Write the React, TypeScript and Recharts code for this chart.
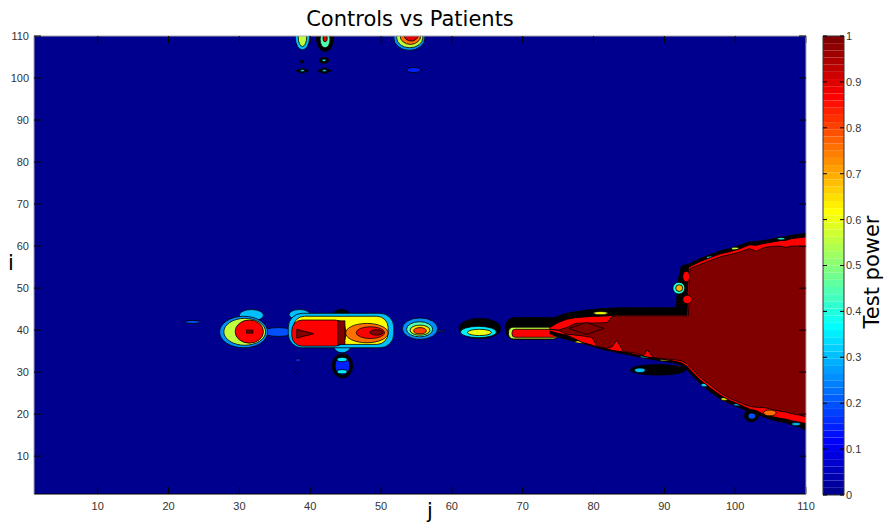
import React from 'react';
import { ComposedChart, Area, XAxis, YAxis, ReferenceArea } from 'recharts';

// Axis ticks
const jTicks = [10, 20, 30, 40, 50, 60, 70, 80, 90, 100, 110];
const iTicks = [10, 20, 30, 40, 50, 60, 70, 80, 90, 100, 110];
const powerTicks = [0, 0.1, 0.2, 0.3, 0.4, 0.5, 0.6, 0.7, 0.8, 0.9, 1];

// Large high-power region (right side): column j and the row range [lo, hi]
// of three nested contour levels (outer edge, 0.86 level, ~1.0 level).
const bigJ = [73.8, 75.0, 76.2, 77.5, 78.5, 79.2, 79.8, 80.5, 81.9, 82.6, 83.3, 84.2, 86.1, 87.0, 87.6, 88.4, 90.4, 91.7, 91.9, 92.4, 93.2, 93.4, 93.6, 93.8, 95.0, 96.5, 98.0, 99.3, 100.7, 102.0, 103.0, 104.0, 105.0, 106.3, 107.2, 108.0, 109.0, 110.0];
const outerLo = [39.2, 38.4, 37.8, 37.2, 36.8, 36.5, 36.2, 35.8, 35.2, 35.0, 34.7, 34.4, 33.7, 33.4, 33.2, 33.0, 32.5, 32.1, 32.0, 31.6, 30.6, 30.2, 29.8, 29.4, 27.4, 25.3, 23.5, 22.5, 21.5, 20.6, 20.2, 19.4, 18.8, 18.2, 18.0, 17.4, 17.0, 16.2];
const outerHi = [42.6, 43.3, 44.0, 44.4, 44.6, 44.8, 44.9, 45.0, 45.2, 45.2, 45.3, 45.3, 45.3, 45.3, 45.3, 45.3, 45.3, 45.3, 51.5, 55.2, 55.6, 55.7, 55.8, 56.0, 57.0, 58.0, 58.9, 59.4, 60.2, 61.0, 61.1, 61.3, 61.6, 62.1, 62.2, 62.6, 62.8, 63.1];
const redLo = [39.8, 39.2, 38.8, 37.8, 37.0, 36.7, 36.4, 36.0, 35.5, 35.2, 35.0, 34.8, 34.1, 33.8, 33.6, 33.4, 32.9, 32.5, 32.4, 32.2, 31.4, 31.0, 30.7, 30.3, 28.2, 26.2, 24.4, 23.2, 22.2, 21.2, 20.8, 20.0, 19.5, 19.0, 18.8, 18.4, 18.1, 17.8];
const redHi = [40.6, 41.8, 42.6, 43.0, 43.1, 43.2, 43.3, 43.3, 43.4, 43.5, 43.6, 43.6, 43.6, 43.6, 43.6, 43.6, 43.6, 43.6, 43.6, 43.6, 43.6, 54.9, 55.1, 55.3, 56.3, 57.3, 58.2, 58.7, 59.4, 60.3, 60.2, 60.6, 60.9, 61.3, 61.4, 61.8, 62.0, 62.2];
const coreLo = [40.2, 40.0, 39.0, 38.8, 38.6, 38.4, 38.3, 36.1, 35.7, 36.0, 37.6, 34.9, 34.5, 33.9, 35.3, 33.5, 33.1, 32.9, 32.8, 32.7, 32.0, 31.6, 31.4, 31.0, 28.8, 26.9, 25.0, 23.7, 22.7, 21.9, 21.6, 21.6, 21.2, 20.7, 20.5, 20.1, 19.8, 19.4];
const coreHi = [40.2, 40.0, 40.6, 41.6, 41.7, 41.7, 41.7, 41.7, 41.8, 43.2, 43.4, 43.4, 43.4, 43.4, 43.4, 43.4, 43.4, 43.4, 43.4, 43.4, 43.4, 43.4, 54.5, 54.8, 55.6, 56.6, 57.5, 58.0, 58.6, 59.4, 58.8, 59.6, 59.9, 60.0, 59.7, 60.0, 60.0, 59.8];

type Patch = {
  j: [number, number];
  i: [number, number];
  p: number | null; // test power of the level; null = tightly packed contour lines
  k?: 'oval' | 'box' | 'rbox' | 'tri' | 'diamond';
};

// Isolated islands of power around row i = 40, drawn below the large region
const lowerPatches: Patch[] = [
  { j: [22.3, 24.5], i: [41.6, 42.3], p: 0.2 },
  { j: [33.2, 37.8], i: [38.5, 40.6], p: 0.2 },
  // j ~ 31
  { j: [30.0, 33.4], i: [42.2, 44.9], p: 0.3 },
  { j: [27.2, 34.0], i: [35.8, 43.3], p: 0.25 },
  { j: [27.8, 33.7], i: [36.4, 42.8], p: 0.55 },
  { j: [29.4, 33.4], i: [36.9, 42.4], p: 0.865 },
  { j: [31.0, 31.9], i: [39.3, 40.0], p: 1.0, k: 'box' },
  // j ~ 37-52
  { j: [37.0, 40.0], i: [42.5, 44.9], p: 0.3 },
  { j: [43.2, 45.6], i: [42.5, 44.9], p: null },
  { j: [43.3, 45.7], i: [34.6, 38.0], p: 0.3 },
  { j: [36.9, 51.8], i: [35.8, 44.0], p: 0.3, k: 'rbox' },
  { j: [37.6, 51.0], i: [36.6, 43.3], p: 0.62, k: 'rbox' },
  { j: [37.4, 45.0], i: [36.2, 42.4], p: 0.865, k: 'rbox' },
  { j: [45.0, 51.0], i: [37.0, 41.6], p: 0.75 },
  { j: [46.5, 50.5], i: [38.0, 40.8], p: 0.865 },
  { j: [38.1, 40.5], i: [38.1, 40.2], p: 1.0, k: 'tri' },
  { j: [43.9, 44.9], i: [36.6, 42.2], p: 1.0, k: 'box' },
  { j: [48.4, 50.3], i: [38.8, 40.1], p: 1.0 },
  // below j ~ 44
  { j: [43.1, 46.0], i: [28.6, 34.4], p: null },
  { j: [43.5, 45.6], i: [29.3, 33.7], p: 0.15 },
  { j: [43.8, 45.2], i: [32.5, 33.5], p: 0.35 },
  { j: [43.8, 45.2], i: [29.6, 30.6], p: 0.35 },
  { j: [37.9, 38.7], i: [32.4, 33.3], p: 0.15 },
  { j: [37.9, 38.3], i: [29.8, 30.4], p: 0.1 },
  // j ~ 55
  { j: [57.5, 59.0], i: [39.6, 40.0], p: 0.2 },
  { j: [53.0, 58.0], i: [37.8, 42.9], p: 0.25 },
  { j: [53.6, 57.3], i: [38.4, 42.0], p: 0.45 },
  { j: [54.1, 56.9], i: [38.8, 41.2], p: 0.65 },
  { j: [54.6, 56.4], i: [39.1, 40.6], p: 0.8 },
  // j ~ 64
  { j: [61.0, 66.9], i: [38.0, 42.8], p: null },
  { j: [61.2, 66.3], i: [38.2, 40.9], p: 0.35 },
  { j: [62.2, 65.6], i: [38.7, 40.2], p: 0.6 },
  // j ~ 71
  { j: [67.6, 75.0], i: [37.8, 43.0], p: null, k: 'rbox' },
  { j: [68.0, 75.0], i: [37.9, 40.7], p: 0.55, k: 'rbox' },
  { j: [68.5, 75.0], i: [38.3, 40.2], p: 0.865, k: 'rbox' },
  // tail below the arm
  { j: [85.2, 93.0], i: [29.3, 31.8], p: null },
  { j: [85.8, 87.3], i: [29.9, 31.0], p: 0.3 },
];

// Thin low-level contours showing through the dark edge band of the large region
const edgeSpecks: Patch[] = [
  { j: [77.4, 79.5], i: [36.9, 37.5], p: 0.6 },
  { j: [86.6, 88.0], i: [33.4, 33.9], p: 0.35 },
  { j: [89.4, 90.8], i: [32.7, 33.1], p: 0.6 },
  { j: [95.2, 96.2], i: [26.6, 27.3], p: 0.35 },
  { j: [98.0, 99.0], i: [23.3, 23.9], p: 0.6 },
  { j: [99.8, 100.8], i: [22.0, 22.5], p: 0.3 },
  { j: [108.0, 109.2], i: [17.3, 18.0], p: 0.3 },
  { j: [80.0, 82.0], i: [43.7, 44.4], p: 0.6 },
  { j: [96.0, 97.0], i: [57.0, 57.6], p: 0.35 },
  { j: [99.5, 100.5], i: [59.1, 59.7], p: 0.55 },
  { j: [106.0, 107.0], i: [61.5, 62.0], p: 0.4 },
];

// Details on top of the large region, and the islands near the top edge
const upperPatches: Patch[] = [
  { j: [91.2, 92.9], i: [48.6, 51.4], p: 0.4 },
  { j: [91.6, 92.6], i: [49.2, 50.8], p: 0.7 },
  { j: [92.6, 93.6], i: [51.5, 54.0], p: 0.865 },
  { j: [92.6, 93.9], i: [46.3, 48.3], p: 0.865 },
  { j: [76.5, 81.5], i: [39.0, 41.8], p: 1.0, k: 'diamond' },
  { j: [101.3, 103.3], i: [18.2, 21.0], p: null },
  { j: [101.8, 102.9], i: [18.8, 20.3], p: 0.2 },
  { j: [104.0, 105.8], i: [19.6, 21.0], p: 0.75 },
  // top edge, j ~ 39
  { j: [37.9, 39.9], i: [106.7, 112.5], p: 0.3 },
  { j: [38.3, 39.5], i: [107.5, 112.0], p: 0.55 },
  // top edge, j ~ 42
  { j: [40.9, 43.3], i: [106.3, 112.5], p: null },
  { j: [41.4, 42.8], i: [107.2, 111.0], p: 0.45 },
  { j: [41.8, 42.4], i: [108.6, 110.3], p: 0.9 },
  { j: [41.3, 42.6], i: [103.5, 104.9], p: null },
  { j: [41.7, 42.2], i: [103.9, 104.5], p: 0.35 },
  { j: [38.6, 39.1], i: [103.6, 104.2], p: null },
  { j: [38.0, 39.8], i: [101.2, 102.3], p: null, k: 'diamond' },
  { j: [38.6, 39.2], i: [101.5, 102.0], p: 0.35 },
  { j: [41.0, 43.0], i: [101.1, 102.4], p: null, k: 'diamond' },
  { j: [41.7, 42.3], i: [101.5, 102.0], p: 0.35 },
  // top edge, j ~ 54
  { j: [51.8, 56.2], i: [106.6, 112.5], p: 0.25 },
  { j: [52.2, 55.9], i: [107.2, 112.0], p: 0.55 },
  { j: [52.7, 55.6], i: [108.0, 112.0], p: 0.75 },
  { j: [53.2, 55.3], i: [108.8, 112.0], p: 0.9 },
  { j: [53.6, 55.6], i: [101.3, 102.5], p: 0.15 },
];

// MATLAB-style jet colormap with m entries
function buildJet(m: number): string[] {
  const n = Math.ceil(m / 4);
  const u: number[] = [];
  for (let k = 1; k <= n; k++) u.push(k / n);
  for (let k = 1; k < n; k++) u.push(1);
  for (let k = n; k >= 1; k--) u.push(k / n);
  const g0 = Math.ceil(n / 2) - (m % 4 === 1 ? 1 : 0);
  const rgb = Array.from({ length: m }, () => [0, 0, 0]);
  u.forEach((val, idx) => {
    const g = g0 + idx + 1;
    const r = g + n;
    const b = g - n;
    if (r >= 1 && r <= m) rgb[r - 1][0] = val;
    if (g >= 1 && g <= m) rgb[g - 1][1] = val;
    if (b >= 1 && b <= m) rgb[b - 1][2] = val;
  });
  return rgb.map(([r, g, b]) => `rgb(${Math.round(r * 255)},${Math.round(g * 255)},${Math.round(b * 255)})`);
}

const JET = buildJet(64);
const powerColor = (p: number | null) =>
  p === null ? '#000000' : JET[Math.min(63, Math.max(0, Math.floor(p * 64)))];

const bigRows = bigJ.map((j, n) => ({
  j,
  outer: [outerLo[n], outerHi[n]],
  red: [redLo[n], redHi[n]],
  core: [coreLo[n], coreHi[n]],
}));

const colorbarBands = JET.map((c, n) => ({ from: n / 64, to: (n + 1) / 64, color: c }));

const patchShape = (kind: string, fill: string, strokeWidth: number) => (props: any) => {
  const { x, y, width: w, height: h, clipPath } = props;
  const common = { fill, stroke: '#000', strokeWidth };
  let el: React.ReactElement;
  if (kind === 'box') {
    el = <rect x={x} y={y} width={w} height={h} {...common} />;
  } else if (kind === 'rbox') {
    const r = Math.min(w, h) * 0.4;
    el = <rect x={x} y={y} width={w} height={h} rx={r} ry={r} {...common} />;
  } else if (kind === 'tri') {
    el = <polygon points={`${x},${y} ${x + w},${y + h / 2} ${x},${y + h}`} {...common} />;
  } else if (kind === 'diamond') {
    el = (
      <polygon
        points={`${x + w / 2},${y} ${x + w},${y + h / 2} ${x + w / 2},${y + h} ${x},${y + h / 2}`}
        {...common}
      />
    );
  } else {
    el = <ellipse cx={x + w / 2} cy={y + h / 2} rx={w / 2} ry={h / 2} {...common} />;
  }
  return <g clipPath={clipPath}>{el}</g>;
};

const tickFont = { fontSize: 11, fill: '#333', fontFamily: 'Liberation Sans, Arial, sans-serif' };
const labelFont = 'DejaVu Sans, sans-serif';

function renderPatches(list: Patch[], base: number, prefix: string, strokeWidth = 0.8) {
  return list.map((pt, n) => (
    <ReferenceArea
      key={`${prefix}${n}`}
      xAxisId="b"
      yAxisId="l"
      x1={pt.j[0]}
      x2={pt.j[1]}
      y1={pt.i[0]}
      y2={pt.i[1]}
      ifOverflow="hidden"
      zIndex={base + n}
      shape={patchShape(pt.k ?? 'oval', powerColor(pt.p), strokeWidth)}
    />
  ));
}

export default function App() {
  return (
    <div style={{ position: 'absolute', left: 0, top: 0, width: 889, height: 528, background: '#fff' }}>
      <div style={{ position: 'absolute', left: 0, top: 0 }}>
        <ComposedChart width={889} height={528} data={bigRows} margin={{ top: 6, right: 53, bottom: 0, left: 8 }}>
          <XAxis
            xAxisId="b"
            dataKey="j"
            type="number"
            domain={[1, 110]}
            ticks={jTicks}
            interval={0}
            allowDataOverflow
            height={34}
            tickSize={-7}
            tickMargin={15}
            axisLine={{ stroke: '#000' }}
            tickLine={{ stroke: '#000' }}
            tick={tickFont}
          />
          <XAxis
            xAxisId="t"
            orientation="top"
            dataKey="j"
            type="number"
            domain={[1, 110]}
            ticks={jTicks}
            interval={0}
            allowDataOverflow
            height={30}
            tickSize={-7}
            tickFormatter={() => ''}
            axisLine={{ stroke: '#a8a8a8' }}
            tickLine={{ stroke: '#000' }}
          />
          <YAxis
            yAxisId="l"
            type="number"
            domain={[1, 110]}
            ticks={iTicks}
            interval={0}
            allowDataOverflow
            width={26}
            tickSize={-7}
            tickMargin={12}
            axisLine={{ stroke: '#a8a8a8' }}
            tickLine={{ stroke: '#000' }}
            tick={tickFont}
          />
          <YAxis
            yAxisId="r"
            orientation="right"
            type="number"
            domain={[1, 110]}
            ticks={iTicks}
            interval={0}
            allowDataOverflow
            width={30}
            tickSize={-7}
            tickFormatter={() => ''}
            axisLine={{ stroke: '#a8a8a8' }}
            tickLine={{ stroke: '#000' }}
          />

          <ReferenceArea
            xAxisId="b"
            yAxisId="l"
            x1={1}
            x2={110}
            y1={1}
            y2={110}
            ifOverflow="hidden"
            fill={JET[0]}
            fillOpacity={1}
            stroke="none"
            zIndex={5}
          />

          {renderPatches(lowerPatches, 20, 'lo')}

          <Area
            xAxisId="b"
            yAxisId="l"
            dataKey="outer"
            type="linear"
            fill="#000"
            fillOpacity={1}
            stroke="#000"
            strokeWidth={1}
            dot={false}
            activeDot={false}
            isAnimationActive={false}
            zIndex={200}
          />

          {renderPatches(edgeSpecks, 210, 'ed', 0.5)}

          <Area
            xAxisId="b"
            yAxisId="l"
            dataKey="red"
            type="linear"
            fill={powerColor(0.865)}
            fillOpacity={1}
            stroke="#000"
            strokeWidth={1}
            dot={false}
            activeDot={false}
            isAnimationActive={false}
            zIndex={260}
          />
          <Area
            xAxisId="b"
            yAxisId="l"
            dataKey="core"
            type="linear"
            fill={powerColor(1)}
            fillOpacity={1}
            stroke="#000"
            strokeWidth={0.8}
            dot={false}
            activeDot={false}
            isAnimationActive={false}
            zIndex={261}
          />

          {renderPatches(upperPatches, 300, 'up')}

          <text x={410} y={26} textAnchor="middle" fontSize={21} fontFamily={labelFont} fill="#000">
            Controls vs Patients
          </text>
          <text x={8} y={270} fontSize={21} fontFamily={labelFont} fill="#000">
            i
          </text>
          <text x={430} y={518} textAnchor="middle" fontSize={21} fontFamily={labelFont} fill="#000">
            j
          </text>
        </ComposedChart>
      </div>

      <div style={{ position: 'absolute', left: 793, top: 0 }}>
        <ComposedChart
          width={96}
          height={528}
          data={colorbarBands}
          margin={{ top: 36, right: 0, bottom: 33, left: 0 }}
        >
          <XAxis xAxisId="c" dataKey="from" type="number" domain={[0, 1]} allowDataOverflow hide />
          <YAxis
            yAxisId="cl"
            type="number"
            domain={[0, 1]}
            allowDataOverflow
            ticks={powerTicks}
            interval={0}
            width={30}
            tickSize={-4}
            tickFormatter={() => ''}
            axisLine={false}
            tickLine={{ stroke: '#000' }}
          />
          <YAxis
            yAxisId="cr"
            orientation="right"
            type="number"
            domain={[0, 1]}
            allowDataOverflow
            ticks={powerTicks}
            interval={0}
            width={45}
            tickSize={-4}
            tickMargin={6}
            axisLine={false}
            tickLine={{ stroke: '#000' }}
            tick={{ ...tickFont, textAnchor: 'start' }}
          />
          {colorbarBands.map((b, n) => (
            <ReferenceArea
              key={`cb${n}`}
              xAxisId="c"
              yAxisId="cl"
              x1={0}
              x2={1}
              y1={b.from}
              y2={b.to}
              fill={b.color}
              fillOpacity={1}
              stroke="none"
              ifOverflow="visible"
              zIndex={10 + n}
            />
          ))}
          <ReferenceArea
            xAxisId="c"
            yAxisId="cl"
            x1={0}
            x2={1}
            y1={0}
            y2={1}
            fill="none"
            stroke="#333"
            strokeWidth={1}
            ifOverflow="visible"
            zIndex={90}
          />
          <text
            x={86}
            y={272}
            textAnchor="middle"
            fontSize={21}
            fontFamily={labelFont}
            fill="#000"
            transform="rotate(-90, 86, 272)"
          >
            Test power
          </text>
        </ComposedChart>
      </div>
    </div>
  );
}
